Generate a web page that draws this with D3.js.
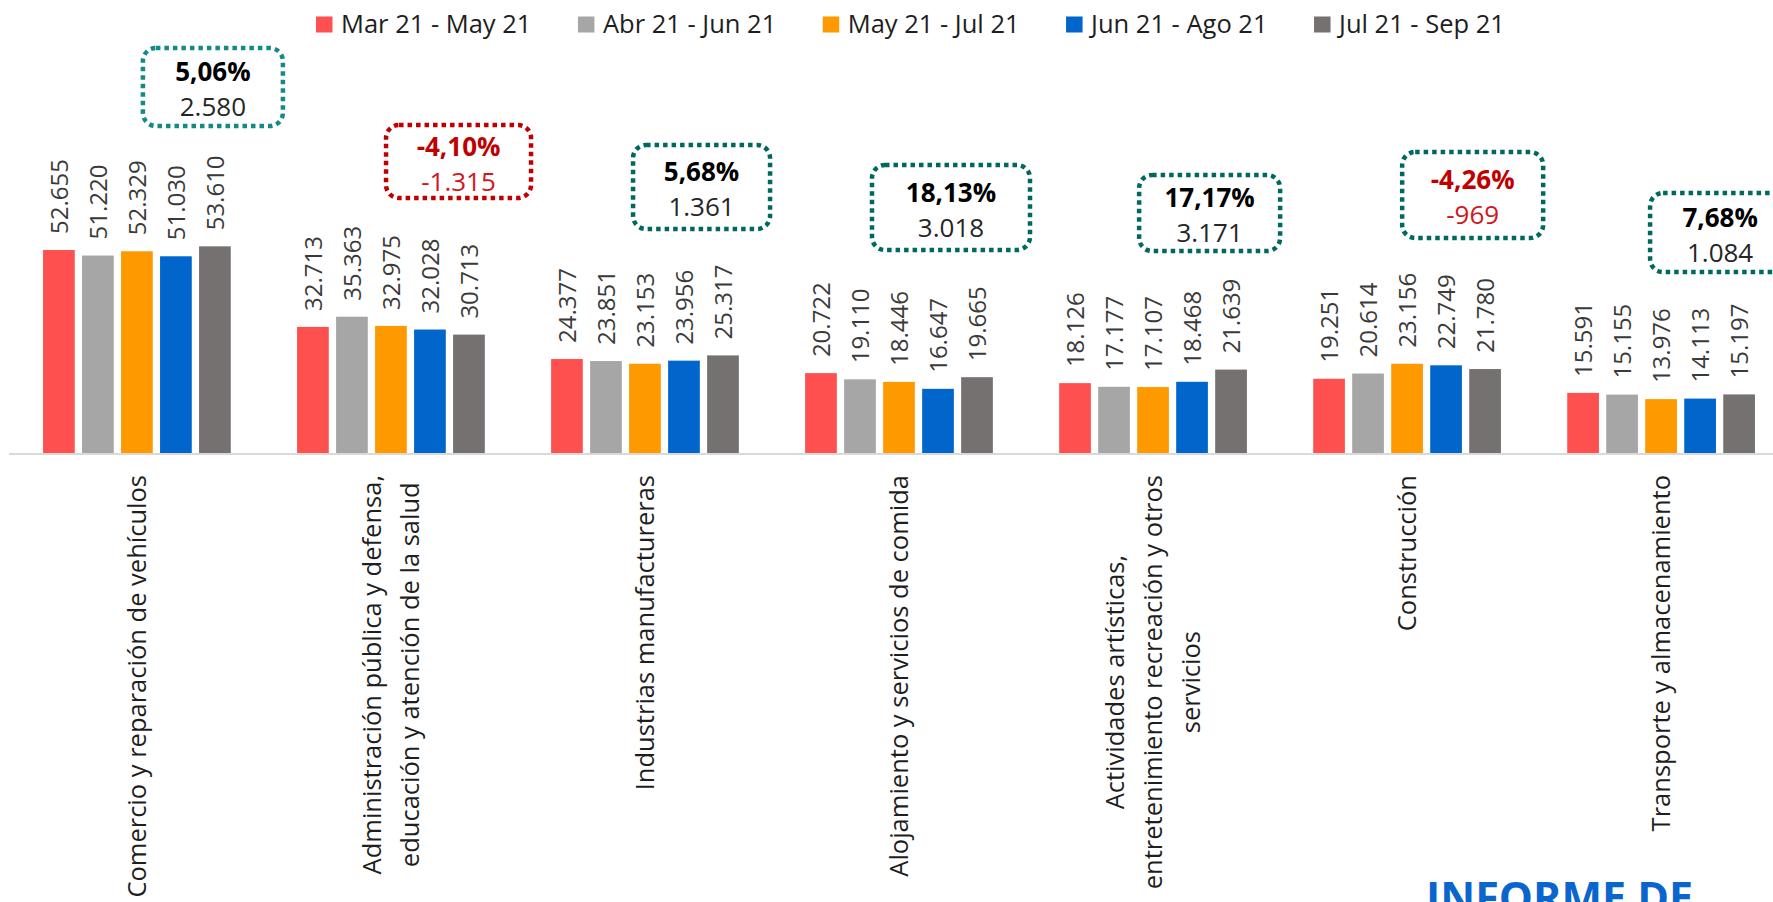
<!DOCTYPE html>
<html>
<head>
<meta charset="utf-8">
<script src="https://cdn.jsdelivr.net/npm/d3@7"></script>
<style>
  html, body { margin: 0; padding: 0; background: #fff; overflow: hidden; }
  svg { display: block; font-family: "Open Sans", "Segoe UI", sans-serif; }
</style>
</head>
<body>
<div id="chart"></div>
<script>
// periodos (series)
var series = ["Mar 21 - May 21", "Abr 21 - Jun 21", "May 21 - Jul 21", "Jun 21 - Ago 21", "Jul 21 - Sep 21"];
var colour = ["#ff5050", "#a6a6a6", "#ff9900", "#0066cc", "#767171"];

// ramas de actividad, una linea de texto por elemento
var categories = [
  ["Comercio y reparación de vehículos"],
  ["Administración pública y defensa,", "educación y atención de la salud"],
  ["Industrias manufactureras"],
  ["Alojamiento y servicios de comida"],
  ["Actividades artísticas,", "entretenimiento recreación y otros", "servicios"],
  ["Construcción"],
  ["Transporte y almacenamiento"]
];

// ocupados por periodo
var marMay = [52655, 32713, 24377, 20722, 18126, 19251, 15591];
var abrJun = [51220, 35363, 23851, 19110, 17177, 20614, 15155];
var mayJul = [52329, 32975, 23153, 18446, 17107, 23156, 13976];
var junAgo = [51030, 32028, 23956, 16647, 18468, 22749, 14113];
var julSep = [53610, 30713, 25317, 19665, 21639, 21780, 15197];

// variacion ultimo periodo
var changePct = [5.06, -4.10, 5.68, 18.13, 17.17, -4.26, 7.68];
var changeAbs = [2580, -1315, 1361, 3018, 3171, -969, 1084];

var values = [marMay, abrJun, mayJul, junAgo, julSep];

// posicion de los recuadros (a mano, como en el original)
var boxLayout = [
  {dx: 76, cy: 87, w: 140, h: 78, col: "#138a85"},
  {dx: 67.6, cy: 161.5, w: 145, h: 73, col: "#c00000"},
  {dx: 56.6, cy: 187, w: 137, h: 84, col: "#00695f"},
  {dx: 52, cy: 207.5, w: 158, h: 85, col: "#00695f"},
  {dx: 56.6, cy: 213, w: 141, h: 76, col: "#00695f"},
  {dx: 65.6, cy: 195, w: 141, h: 86, col: "#00695f"},
  {dx: 59, cy: 232.5, w: 140, h: 79, col: "#00695f"}
];

var width = 1773;
var height = 902;

var es = d3.formatLocale({decimal: ",", thousands: ".", grouping: [3], currency: ["$", ""]});
var fmtInt = es.format(",d");
var fmtPct = es.format(".2f");

var svg = d3.select("#chart")
    .append("svg")
    .attr("width", width)
    .attr("height", height);

var idx = d3.range(categories.length);

var x0 = d3.scaleBand()
    .domain(idx)
    .range([9, 1789])
    .paddingInner(0.261)
    .paddingOuter(0.134);

var x1 = d3.scaleBand()
    .domain(d3.range(series.length))
    .range([0, x0.bandwidth()])
    .paddingInner(0.187);

var y = d3.scaleLinear()
    .domain([0, 60000])
    .range([453, 453 - 231.3]);

// bars
var groups = svg.selectAll(".group")
    .data(idx)
    .enter()
    .append("g")
    .attr("class", "group")
    .attr("transform", function (d) {
        return "translate(" + x0(d) + ",0)";
    });

groups.selectAll("rect")
    .data(function (c) {
        return values.map(function (s, i) { return {s: i, v: s[c]}; });
    })
    .enter()
    .append("rect")
    .attr("x", function (d) { return x1(d.s); })
    .attr("y", function (d) { return y(d.v); })
    .attr("width", x1.bandwidth())
    .attr("height", function (d) { return y(0) - y(d.v); })
    .style("fill", function (d) { return colour[d.s]; });

// value labels
groups.selectAll(".val")
    .data(function (c) {
        return values.map(function (s, i) { return {s: i, v: s[c]}; });
    })
    .enter()
    .append("text")
    .attr("class", "val")
    .attr("transform", function (d) {
        return "translate(" + (x1(d.s) + x1.bandwidth() / 2) + "," + (y(d.v) - 16) + ") rotate(-90)";
    })
    .attr("dy", "0.36em")
    .style("fill", "#3a3a3a")
    .style("font-size", "24px")
    .text(function (d) { return fmtInt(d.v); });

// axis line
svg.append("line")
    .attr("x1", 9)
    .attr("x2", width)
    .attr("y1", y(0) + 1)
    .attr("y2", y(0) + 1)
    .style("stroke", "#d9d9d9")
    .style("stroke-width", 2);

// category labels
var catFont = 25.5, lineGap = 38;
idx.forEach(function (c) {
    var lines = categories[c];
    var g = svg.append("g")
        .attr("transform", "translate(" + (x0(c) + x0.bandwidth() / 2) + ",475) rotate(-90)");
    var texts = g.selectAll("text")
        .data(lines)
        .enter()
        .append("text")
        .style("font-size", catFont + "px")
        .style("fill", "#1e1e1e")
        .attr("text-anchor", "middle")
        .attr("y", function (d, i) {
            return (i - (lines.length - 1) / 2) * lineGap + catFont * 0.36;
        })
        .text(function (d) { return d; });
    var maxLen = d3.max(texts.nodes(), function (n) { return n.getComputedTextLength(); });
    texts.attr("x", -maxLen / 2);
});

// callout boxes
idx.forEach(function (c) {
    var b = boxLayout[c];
    var cx = x0(c) + x0.bandwidth() / 2 + b.dx;
    var neg = changeAbs[c] < 0;
    svg.append("rect")
        .attr("x", cx - b.w / 2)
        .attr("y", b.cy - b.h / 2)
        .attr("width", b.w)
        .attr("height", b.h)
        .attr("rx", 13)
        .style("fill", "none")
        .style("stroke", b.col)
        .style("stroke-width", 4.5)
        .style("stroke-dasharray", "4.5 4");
    svg.append("text")
        .attr("x", cx)
        .attr("y", b.cy - 6)
        .attr("text-anchor", "middle")
        .style("font-size", "26px")
        .style("font-weight", "bold")
        .style("fill", neg ? "#c00000" : "#000")
        .text(fmtPct(changePct[c]).replace("−", "-") + "%");
    svg.append("text")
        .attr("x", cx)
        .attr("y", b.cy + 29)
        .attr("text-anchor", "middle")
        .style("font-size", "26px")
        .style("fill", neg ? "#d0181c" : "#262626")
        .text(fmtInt(changeAbs[c]).replace("−", "-"));
});

// legend
var lx = 316;
series.forEach(function (s, i) {
    svg.append("rect")
        .attr("x", lx)
        .attr("y", 16.5)
        .attr("width", 16.5)
        .attr("height", 16)
        .style("fill", colour[i]);
    var t = svg.append("text")
        .attr("x", lx + 25)
        .attr("y", 33.3)
        .style("font-size", "25.5px")
        .style("fill", "#1e1e1e")
        .text(s);
    lx += 25 + t.node().getComputedTextLength() + 46.5;
});

// titulo cortado abajo
svg.append("text")
    .attr("x", 1426)
    .attr("y", 913)
    .style("font-size", "43px")
    .style("font-weight", "bold")
    .style("fill", "#0a66cc")
    .text("INFORME DE");
</script>
</body>
</html>
